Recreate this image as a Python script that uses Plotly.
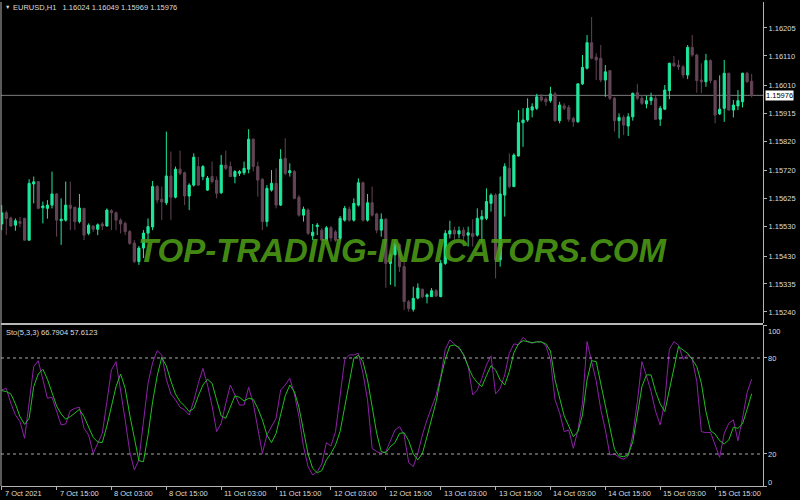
import plotly.graph_objects as go

# ---------------- data ----------------
tick_idx = [0, 12, 24, 36, 48, 60, 72, 84, 96, 108, 120, 132, 144, 156]
tick_lbl = ["7 Oct 2021", "7 Oct 15:00", "8 Oct 03:00", "8 Oct 15:00", "11 Oct 03:00",
            "11 Oct 15:00", "12 Oct 03:00", "12 Oct 15:00", "13 Oct 03:00", "13 Oct 15:00",
            "14 Oct 03:00", "14 Oct 15:00", "15 Oct 03:00", "15 Oct 15:00"]

price_ticks = [1.16205, 1.16110, 1.16010, 1.15915, 1.15820, 1.15720,
               1.15625, 1.15530, 1.15430, 1.15335, 1.15240]

opens = [1.15539,1.15577,1.15559,1.15535,1.15547,1.15558,1.15484,1.15675,1.15683,1.15594,
         1.15592,1.15603,1.15641,1.15550,1.15552,1.15603,1.15596,1.15547,1.15592,1.15507,
         1.15532,1.15521,1.15539,1.15532,1.15584,1.15577,1.15552,1.15541,1.15513,1.15474,
         1.15411,1.15457,1.15508,1.15529,1.15666,1.15623,1.15611,1.15702,1.15630,1.15725,
         1.15713,1.15634,1.15671,1.15734,1.15700,1.15654,1.15700,1.15688,1.15645,1.15739,
         1.15734,1.15700,1.15711,1.15713,1.15725,1.15827,1.15734,1.15691,1.15547,1.15654,
         1.15677,1.15603,1.15762,1.15713,1.15717,1.15630,1.15569,1.15586,1.15499,1.15530,
         1.15518,1.15484,1.15526,1.15512,1.15490,1.15552,1.15589,1.15552,1.15603,1.15679,
         1.15552,1.15611,1.15573,1.15518,1.15555,1.15405,1.15434,1.15468,1.15394,1.15275,
         1.15249,1.15287,1.15317,1.15292,1.15292,1.15312,1.15292,1.15405,1.15505,1.15518,
         1.15505,1.15518,1.15501,1.15507,1.15501,1.15555,1.15558,1.15609,1.15637,1.15417,
         1.15637,1.15728,1.15666,1.15770,1.15883,1.15892,1.15926,1.15932,1.15971,1.15964,
         1.15958,1.15981,1.15890,1.15940,1.15935,1.15898,1.15886,1.16015,1.16068,1.16155,
         1.16106,1.16102,1.16028,1.16060,1.15966,1.15890,1.15901,1.15872,1.15903,1.15985,
         1.15966,1.15947,1.15958,1.15966,1.15895,1.15929,1.15992,1.16085,1.16079,1.16073,
         1.16045,1.16139,1.16113,1.16028,1.16022,1.16094,1.16026,1.15913,1.15932,1.16051,
         1.15926,1.15940,1.15954,1.16051,1.16024]

highs = [1.15603,1.15584,1.15564,1.15558,1.15562,1.15560,1.15691,1.15700,1.15685,1.15615,
         1.15620,1.15717,1.15644,1.15626,1.15683,1.15683,1.15597,1.15641,1.15593,1.15541,
         1.15535,1.15541,1.15546,1.15592,1.15589,1.15581,1.15558,1.15547,1.15518,1.15484,
         1.15464,1.15518,1.15558,1.15685,1.15671,1.15666,1.15853,1.15785,1.15734,1.15788,
         1.15717,1.15677,1.15779,1.15767,1.15739,1.15702,1.15751,1.15700,1.15773,1.15788,
         1.15751,1.15722,1.15722,1.15751,1.15861,1.15830,1.15751,1.15694,1.15671,1.15722,
         1.15728,1.15793,1.15830,1.15745,1.15722,1.15637,1.15598,1.15592,1.15539,1.15542,
         1.15525,1.15532,1.15532,1.15518,1.15566,1.15600,1.15598,1.15626,1.15694,1.15683,
         1.15641,1.15666,1.15577,1.15575,1.15559,1.15440,1.15484,1.15474,1.15417,1.15281,
         1.15326,1.15337,1.15320,1.15303,1.15321,1.15318,1.15417,1.15518,1.15550,1.15530,
         1.15530,1.15528,1.15530,1.15555,1.15592,1.15586,1.15660,1.15643,1.15643,1.15700,
         1.15745,1.15779,1.15779,1.15926,1.15932,1.15966,1.15949,1.15981,1.15981,1.15971,
         1.16005,1.15988,1.15954,1.15949,1.15943,1.15903,1.16017,1.16113,1.16181,1.16242,
         1.16119,1.16147,1.16079,1.16062,1.15971,1.15915,1.15909,1.15915,1.15985,1.16015,
         1.15977,1.15974,1.15985,1.15974,1.15940,1.16011,1.16087,1.16110,1.16096,1.16079,
         1.16147,1.16181,1.16117,1.16085,1.16117,1.16098,1.16028,1.16044,1.16096,1.16053,
         1.15960,1.15994,1.16053,1.16056,1.16049]

lows = [1.15518,1.15501,1.15529,1.15516,1.15528,1.15482,1.15482,1.15609,1.15589,1.15541,
        1.15557,1.15592,1.15496,1.15468,1.15547,1.15518,1.15518,1.15541,1.15484,1.15501,
        1.15512,1.15501,1.15518,1.15530,1.15518,1.15518,1.15507,1.15501,1.15468,1.15406,
        1.15400,1.15423,1.15481,1.15518,1.15609,1.15552,1.15603,1.15552,1.15626,1.15705,
        1.15603,1.15586,1.15666,1.15668,1.15688,1.15651,1.15677,1.15626,1.15641,1.15722,
        1.15698,1.15677,1.15702,1.15705,1.15711,1.15717,1.15632,1.15518,1.15530,1.15649,
        1.15592,1.15600,1.15705,1.15700,1.15623,1.15564,1.15547,1.15501,1.15484,1.15501,
        1.15481,1.15479,1.15479,1.15478,1.15484,1.15547,1.15547,1.15547,1.15598,1.15547,
        1.15547,1.15564,1.15507,1.15496,1.15322,1.15332,1.15326,1.15376,1.15247,1.15241,
        1.15241,1.15283,1.15286,1.15269,1.15291,1.15291,1.15290,1.15400,1.15490,1.15484,
        1.15490,1.15473,1.15462,1.15462,1.15496,1.15473,1.15552,1.15581,1.15354,1.15394,
        1.15564,1.15660,1.15664,1.15768,1.15801,1.15886,1.15901,1.15926,1.15954,1.15940,
        1.15951,1.15886,1.15881,1.15926,1.15886,1.15869,1.15883,1.16011,1.16064,1.16098,
        1.16028,1.16021,1.15971,1.15960,1.15853,1.15830,1.15841,1.15838,1.15890,1.15960,
        1.15943,1.15932,1.15943,1.15892,1.15872,1.15926,1.15963,1.16073,1.16062,1.16034,
        1.16031,1.16107,1.15985,1.15983,1.16005,1.16017,1.15881,1.15909,1.15886,1.15924,
        1.15901,1.15926,1.15935,1.16019,1.15969]

closes = [1.15577,1.15557,1.15532,1.15550,1.15541,1.15484,1.15677,1.15682,1.15592,1.15600,
          1.15603,1.15641,1.15552,1.15555,1.15603,1.15592,1.15547,1.15593,1.15501,1.15535,
          1.15521,1.15536,1.15532,1.15586,1.15577,1.15552,1.15539,1.15513,1.15473,1.15411,
          1.15457,1.15508,1.15530,1.15666,1.15620,1.15614,1.15702,1.15630,1.15725,1.15711,
          1.15634,1.15671,1.15766,1.15671,1.15734,1.15695,1.15683,1.15643,1.15739,1.15728,
          1.15700,1.15717,1.15717,1.15728,1.15827,1.15734,1.15688,1.15547,1.15660,1.15677,
          1.15603,1.15759,1.15711,1.15720,1.15626,1.15569,1.15589,1.15507,1.15511,1.15535,
          1.15484,1.15526,1.15491,1.15484,1.15558,1.15592,1.15552,1.15609,1.15679,1.15552,
          1.15611,1.15569,1.15518,1.15555,1.15405,1.15434,1.15473,1.15394,1.15275,1.15252,
          1.15286,1.15321,1.15292,1.15298,1.15312,1.15294,1.15405,1.15507,1.15516,1.15505,
          1.15516,1.15498,1.15509,1.15496,1.15558,1.15564,1.15615,1.15637,1.15417,1.15641,
          1.15734,1.15666,1.15773,1.15883,1.15892,1.15932,1.15937,1.15971,1.15960,1.15954,
          1.15981,1.15890,1.15943,1.15932,1.15895,1.15886,1.16015,1.16071,1.16155,1.16102,
          1.16096,1.16028,1.16056,1.15966,1.15890,1.15901,1.15875,1.15903,1.15983,1.15966,
          1.15949,1.15958,1.15969,1.15895,1.15932,1.15994,1.16085,1.16076,1.16073,1.16045,
          1.16139,1.16113,1.16026,1.16022,1.16094,1.16026,1.15909,1.15929,1.16051,1.15926,
          1.15943,1.15958,1.16051,1.16022,1.15976]

stoch_k = [60.0,61.0,51.7,44.4,40.2,29.8,52.0,74.6,78.3,67.3,54.8,55.4,46.5,38.1,38.8,
           47.1,48.5,49.2,36.0,31.9,20.4,26.7,32.9,52.7,72.5,77.7,60.0,41.3,21.5,10.0,
           16.3,39.2,64.2,77.1,84.6,81.9,66.7,57.5,53.8,49.2,47.5,44.4,53.3,64.2,73.5,
           63.1,50.0,34.0,39.2,51.7,63.1,56.9,50.6,50.6,61.7,51.7,37.1,20.4,31.9,37.1,
           42.3,60.0,63.1,67.3,57.5,43.3,24.6,12.1,6.9,9.0,13.8,27.1,25.0,34.0,55.8,
           78.8,81.9,81.9,82.9,70.4,53.8,23.5,21.5,20.4,21.5,28.8,35.0,37.1,31.9,14.6,
           12.1,20.4,31.9,41.3,49.6,56.9,68.3,85.4,91.3,88.8,86.0,82.3,75.0,56.9,60.0,
           67.3,75.6,81.3,57.5,61.0,69.4,82.9,88.8,88.3,92.9,90.2,89.2,90.2,90.2,87.5,
           78.8,53.8,45.8,34.0,35.0,23.5,35.0,51.7,90.2,77.7,65.8,47.9,35.0,19.4,20.0,
           17.9,16.7,18.8,31.9,52.7,77.7,68.8,59.0,46.5,38.1,52.7,85.4,90.2,88.1,79.2,
           81.9,79.2,65.2,34.0,33.3,33.5,25.6,17.9,32.9,39.2,41.3,28.3,42.3,58.3,66.79]

stoch_d = [59.6,59.0,57.5,51.3,43.3,38.5,42.3,62.1,70.0,72.9,66.7,58.3,50.0,45.0,41.7,
           43.3,45.8,47.9,43.3,36.7,30.4,27.5,27.1,37.5,49.6,62.1,70.0,61.0,44.4,28.8,
           15.8,15.2,31.9,52.7,68.8,80.4,75.0,65.6,57.5,52.7,50.0,46.5,48.5,56.3,63.1,
           66.7,64.2,53.8,43.8,42.3,49.2,56.3,55.4,53.1,54.8,54.2,48.5,41.3,31.9,27.1,
           32.9,45.0,56.3,63.1,59.0,49.2,34.0,20.0,11.0,8.3,9.6,16.3,20.4,25.6,34.0,
           49.2,65.8,79.8,81.7,77.7,66.3,48.5,32.9,21.5,20.8,24.6,27.1,32.9,33.3,28.3,
           20.0,16.3,20.4,30.8,41.3,52.7,67.3,79.2,87.5,88.1,86.7,81.9,74.6,68.3,64.6,
           62.1,69.0,75.2,72.5,66.3,63.1,71.5,83.3,88.8,90.8,90.4,89.6,90.0,90.0,88.8,
           84.4,66.3,54.2,43.8,37.5,30.8,34.0,44.4,66.3,78.3,77.7,64.2,49.2,35.0,22.9,
           18.8,18.3,19.4,27.7,44.4,62.1,69.4,69.4,59.0,51.3,46.5,60.0,75.6,87.1,85.0,
           82.9,79.2,74.6,64.2,46.5,34.6,32.5,28.3,26.3,28.8,36.7,36.0,38.8,47.9,57.61]

bars = list(range(len(closes)))
last_price = 1.15976

# ---------------- layout helpers ----------------
W, H = 800, 500
ML, MR, MT, MB = 1, 37, 2, 14
PW, PH = W - ML - MR, H - MT - MB


def px_x(x):
    return (x - ML) / PW


def px_y(y):
    return (H - MB - y) / PH


BULL = "#1ee89c"
BEAR = "#634456"
AXIS = "#b4b4b4"
TXT = "#dcdcdc"
FONT = "Liberation Sans"

x_range = [(ML - 1.7) / 4.573, (W - MR - 1.7) / 4.573]

fig = go.Figure()

fig.add_trace(go.Candlestick(
    x=bars, open=opens, high=highs, low=lows, close=closes,
    xaxis="x", yaxis="y",
    increasing=dict(line=dict(color=BULL, width=1), fillcolor=BULL),
    decreasing=dict(line=dict(color=BEAR, width=1), fillcolor=BEAR),
    whiskerwidth=0, showlegend=False, hoverinfo="skip",
))

fig.add_trace(go.Scatter(x=bars, y=stoch_k, mode="lines", xaxis="x2", yaxis="y2",
                         line=dict(color="#8e22a8", width=1), showlegend=False, hoverinfo="skip"))
fig.add_trace(go.Scatter(x=bars, y=stoch_d, mode="lines", xaxis="x2", yaxis="y2",
                         line=dict(color="#1fbf1f", width=1), showlegend=False, hoverinfo="skip"))

price_top = 1.16300 - (MT) * 3.398e-5
price_bot = 1.16300 - 323 * 3.398e-5

shapes = [
    dict(type="line", xref="paper", x0=0, x1=1, yref="y", y0=last_price, y1=last_price,
         line=dict(color="#7c7c7c", width=1), layer="below"),
    dict(type="line", xref="paper", x0=0, x1=1, yref="y2", y0=80, y1=80,
         line=dict(color="#a8a8a8", width=1, dash="dot")),
    dict(type="line", xref="paper", x0=0, x1=1, yref="y2", y0=20, y1=20,
         line=dict(color="#a8a8a8", width=1, dash="dot")),
    dict(type="line", xref="paper", x0=0, x1=1, yref="paper", y0=px_y(324), y1=px_y(324),
         line=dict(color="#b8b8b8", width=2)),
    dict(type="line", xref="paper", x0=0, x1=0, yref="paper", y0=0, y1=1,
         line=dict(color=AXIS, width=1)),
]

annotations = []
annotations.append(dict(
    text="<b><i>TOP-TRADING-INDICATORS.COM</i></b>", xref="paper", yref="paper",
    x=px_x(402), y=px_y(250), xanchor="center", yanchor="middle", showarrow=False,
    font=dict(family=FONT, size=33, color="rgba(76,156,22,0.9)")))
annotations.append(dict(text="\u25bc", xref="paper", yref="paper", x=px_x(3), y=px_y(7),
                        xanchor="left", yanchor="middle", showarrow=False,
                        font=dict(family=FONT, size=5.5, color=TXT)))
annotations.append(dict(
    text="EURUSD,H1\u00a0\u00a0 1.16024 1.16049 1.15969 1.15976", xref="paper", yref="paper",
    x=px_x(11), y=px_y(7), xanchor="left", yanchor="middle", showarrow=False,
    font=dict(family=FONT, size=7.5, color=TXT)))
annotations.append(dict(
    text="Sto(5,3,3) 66.7904 57.6123", xref="paper", yref="paper",
    x=px_x(4), y=px_y(332), xanchor="left", yanchor="middle", showarrow=False,
    font=dict(family=FONT, size=7.5, color=TXT)))
annotations.append(dict(
    text="1.15976", xref="paper", yref="y", x=px_x(765), y=last_price,
    xanchor="left", yanchor="middle", showarrow=False, bgcolor="#ffffff",
    borderpad=0, font=dict(family=FONT, size=7.5, color="#000000")))
for val, ypx in [("100", 331), ("80", 358), ("20", 454), ("0", 482)]:
    annotations.append(dict(text=val, xref="paper", yref="paper", x=px_x(766), y=px_y(ypx),
                            xanchor="left", yanchor="middle", showarrow=False,
                            font=dict(family=FONT, size=7.5, color=TXT)))
for idx, lbl in zip(tick_idx, tick_lbl):
    annotations.append(dict(text=lbl, xref="x2", yref="paper", x=idx, y=px_y(493),
                            xanchor="left", yanchor="middle", xshift=1, showarrow=False,
                            font=dict(family=FONT, size=7.5, color=TXT)))

fig.update_layout(
    width=W, height=H,
    margin=dict(l=ML, r=MR, t=MT, b=MB),
    paper_bgcolor="#000000", plot_bgcolor="#000000",
    showlegend=False,
    boxgap=0.32,
    hovermode=False,
    xaxis=dict(domain=[0, 1], anchor="y", range=x_range, showticklabels=False,
               showgrid=False, zeroline=False, ticks="", rangeslider=dict(visible=False)),
    xaxis2=dict(domain=[0, 1], anchor="y2", range=x_range, showticklabels=False,
                showgrid=False, zeroline=False, ticks="outside", ticklen=3,
                tickcolor=AXIS, tickvals=tick_idx, showline=True, linecolor=AXIS, linewidth=1),
    yaxis=dict(domain=[px_y(323), 1], anchor="x", side="right", range=[price_bot, price_top],
               tickvals=price_ticks, ticktext=[f"{v:.5f}" for v in price_ticks],
               ticks="outside", ticklen=3, tickcolor=AXIS, showgrid=False, zeroline=False,
               showline=True, linecolor=AXIS, linewidth=1,
               tickfont=dict(family=FONT, size=7.5, color=TXT)),
    yaxis2=dict(domain=[0, px_y(325)], anchor="x2", side="right", range=[0, 100.6],
                tickvals=[0, 20, 80, 100], showticklabels=False, ticks="outside", ticklen=3,
                tickcolor=AXIS, showgrid=False, zeroline=False,
                showline=True, linecolor=AXIS, linewidth=1),
    shapes=shapes,
    annotations=annotations,
)

fig.write_html("out.html",
               config={"displayModeBar": False, "staticPlot": True},
               post_script="document.body.style.margin='0';document.body.style.overflow='hidden';")
